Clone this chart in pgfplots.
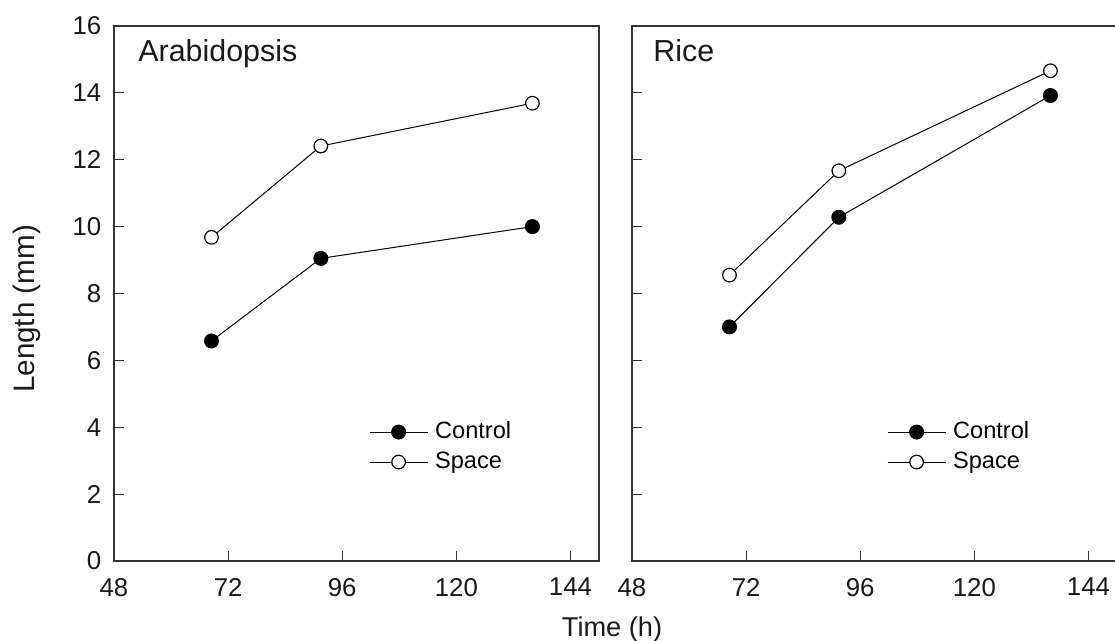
\documentclass[border=0pt]{standalone}
\usepackage{pgfplots}
\pgfplotsset{compat=1.18}
\usepackage{fontspec}
\setmainfont{Liberation Sans}
\definecolor{axgray}{HTML}{333333}
\pgfplotsset{
  panel/.style={
    scale only axis, width=242.5pt, height=267.5pt,
    anchor=south west,
    xmin=48, xmax=150, ymin=0, ymax=16,
    xtick={48,72,96,120,144}, ytick={0,2,...,16},
    tick align=inside, tickpos=left, major tick length=5pt,
    axis line style={axgray, line width=0.7pt},
    every tick/.style={axgray, line width=0.6pt},
    /pgf/number format/assume math mode=true,
    tick label style={font=\fontsize{12.9}{15}\selectfont, text=black!90},
    xticklabel style={yshift=-5pt},
    yticklabel style={xshift=-2.8pt},
    legend cell align=left,
    legend image code/.code={\draw[mark repeat=2,mark phase=2,#1] plot coordinates {(0pt,0pt) (14.5pt,0pt) (29pt,0pt)};},
    legend style={at={(0.526,0.213)}, anchor=west, draw=none, fill=none,
      inner sep=0pt, outer sep=0pt, row sep=3.7pt,
      font=\fontsize{11.8}{14}\selectfont,
      nodes={inner sep=0pt, text height=8.8pt, text depth=2.5pt},
      /tikz/every odd column/.append style={column sep=3.5pt}},
  },
  ctrl/.style={black, line width=0.5pt, mark=*, mark size=3.5pt, mark options={fill=black, draw=black, solid}},
  spc/.style={black, line width=0.5pt, mark=*, mark size=3.4pt, mark options={fill=white, draw=black, line width=0.6pt, solid}},
}
\begin{document}
\begin{tikzpicture}
\path[use as bounding box] (0,0) rectangle (557.5pt,320.5pt);
\begin{axis}[panel, at={(57pt,40pt)}]
\addplot[ctrl] coordinates {(68.5,6.58) (91.5,9.05) (136,10.0)};
\addlegendentry{Control}
\addplot[spc] coordinates {(68.5,9.68) (91.5,12.41) (136,13.69)};
\addlegendentry{Space}
\node[anchor=north west, inner sep=0pt, font=\fontsize{15.2}{18}\selectfont, text=black!90] at ([xshift=12pt,yshift=-6.5pt]rel axis cs:0,1) {Arabidopsis};
\end{axis}
\begin{axis}[panel, at={(316pt,40pt)}, yticklabels={}]
\addplot[ctrl] coordinates {(68.5,7.0) (91.5,10.28) (136,13.92)};
\addlegendentry{Control}
\addplot[spc] coordinates {(68.5,8.55) (91.5,11.67) (136,14.66)};
\addlegendentry{Space}
\node[anchor=north west, inner sep=0pt, font=\fontsize{15.2}{18}\selectfont, text=black!90] at ([xshift=10.5pt,yshift=-6.5pt]rel axis cs:0,1) {Rice};
\end{axis}
\node[anchor=base, font=\fontsize{13.6}{16}\selectfont, text=black!90] at (306pt,2pt) {Time (h)};
\node[rotate=90, anchor=center, font=\fontsize{14.8}{17}\selectfont, text=black!90] at (13.5pt,166pt) {Length (mm)};
\end{tikzpicture}
\end{document}
